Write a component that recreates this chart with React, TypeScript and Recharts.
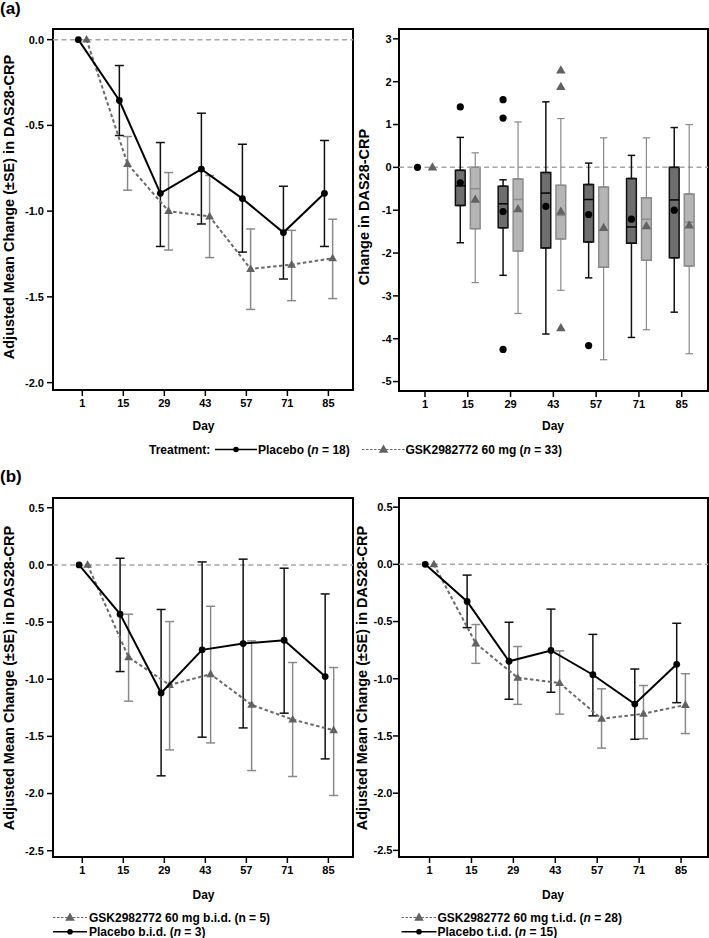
import React from 'react';
import {
  ComposedChart,
  Scatter,
  XAxis,
  YAxis,
  ErrorBar,
  ReferenceLine,
  ReferenceArea,
} from 'recharts';

/* ------------------------------------------------------------------ */
/*  Data                                                               */
/* ------------------------------------------------------------------ */
const DAYS = [1, 15, 29, 43, 57, 71, 85];
const BOX_DAYS = [15, 29, 43, 57, 71, 85];

const meanTicksA = [0, -0.5, -1, -1.5, -2];
const boxTicks = [3, 2, 1, 0, -1, -2, -3, -4, -5];
const meanTicksB = [0.5, 0, -0.5, -1, -1.5, -2, -2.5];

/* (a) left — adjusted mean change ± SE */
const aPlaceboMean = [0, -0.355, -0.896, -0.755, -0.927, -1.125, -0.896];
const aPlaceboUpper = [0, -0.151, -0.6, -0.429, -0.61, -0.855, -0.588];
const aPlaceboLower = [0, -0.559, -1.206, -1.075, -1.239, -1.396, -1.206];
const aGskMean = [0, -0.725, -1.0, -1.031, -1.337, -1.312, -1.275];
const aGskUpper = [0, -0.565, -0.775, -0.792, -1.104, -1.112, -1.047];
const aGskLower = [0, -0.878, -1.227, -1.271, -1.573, -1.522, -1.51];

/* (a) right — box plots of change */
const boxPlaceboMin = [-1.76, -2.52, -3.89, -2.58, -3.97, -3.38];
const boxPlaceboQ1 = [-0.89, -1.41, -1.88, -1.74, -1.77, -2.11];
const boxPlaceboMedian = [-0.43, -0.85, -0.6, -0.75, -1.39, -0.76];
const boxPlaceboQ3 = [-0.07, -0.44, -0.12, -0.4, -0.26, 0.0];
const boxPlaceboMax = [0.7, -0.29, 1.53, 0.1, 0.28, 0.93];
const boxPlaceboMean = [0, -0.36, -1.03, -0.91, -1.1, -1.21, -1.0];

const boxGskMin = [-2.69, -3.41, -2.87, -4.49, -3.79, -4.35];
const boxGskQ1 = [-1.43, -1.95, -1.67, -2.33, -2.17, -2.3];
const boxGskMedian = [-0.5, -0.75, -1.12, -1.47, -1.21, -1.28];
const boxGskQ3 = [0.0, -0.27, -0.42, -0.46, -0.71, -0.62];
const boxGskMax = [0.34, 1.06, 1.14, 0.69, 0.69, 1.0];
const boxGskMean = [0, -0.75, -0.97, -1.03, -1.41, -1.37, -1.35];

const placeboOutlierDays = [15, 29, 29, 29, 57];
const placeboOutlierValues = [1.41, 1.58, 1.15, -4.25, -4.16];
const gskOutlierDays = [43, 43, 43];
const gskOutlierValues = [2.27, 1.88, -3.75];

/* (b) left — b.i.d. */
const bidPlaceboMean = [0, -0.431, -1.12, -0.743, -0.688, -0.659, -0.977];
const bidPlaceboUpper = [0, 0.058, -0.39, 0.026, 0.05, -0.029, -0.254];
const bidPlaceboLower = [0, -0.933, -1.845, -1.507, -1.426, -1.297, -1.697];
const bidGskMean = [0, -0.808, -1.05, -0.956, -1.224, -1.353, -1.446];
const bidGskUpper = [0, -0.431, -0.496, -0.362, -0.665, -0.854, -0.898];
const bidGskLower = [0, -1.192, -1.618, -1.557, -1.799, -1.851, -2.017];

/* (b) right — t.i.d. */
const tidPlaceboMean = [0, -0.324, -0.847, -0.753, -0.965, -1.221, -0.874];
const tidPlaceboUpper = [0, -0.094, -0.506, -0.391, -0.612, -0.915, -0.515];
const tidPlaceboLower = [0, -0.553, -1.179, -1.118, -1.324, -1.529, -1.209];
const tidGskMean = [0, -0.691, -0.991, -1.038, -1.35, -1.306, -1.229];
const tidGskUpper = [0, -0.526, -0.718, -0.756, -1.088, -1.059, -0.956];
const tidGskLower = [0, -0.865, -1.224, -1.309, -1.606, -1.524, -1.479];

/* ------------------------------------------------------------------ */
/*  Styling                                                            */
/* ------------------------------------------------------------------ */
const FONT = '"Liberation Sans", Arial, Helvetica, sans-serif';
const TICK = { fill: '#000', fontSize: 11, fontWeight: 700, fontFamily: FONT };
const TICK_LINE = { stroke: '#000', strokeWidth: 1.5 };
const ZERO_LINE = '#a6a6a6';
const GSK_LINE = '#6a6a6a';
const GSK_BAR = '#8a8a8a';
const GSK_MARK = '#626262';

type Pt = { x: number; y: number; err: [number, number] };

function toPoints(mean: number[], upper: number[], lower: number[], shift: number): Pt[] {
  return DAYS.map((d, i) => ({
    x: d + shift,
    y: mean[i],
    err: [mean[i] - lower[i], upper[i] - mean[i]] as [number, number],
  }));
}

const NoShape = () => <g />;

function dotShape(r: number, fill: string) {
  return (p: any) => <circle cx={p.cx} cy={p.cy} r={r} fill={fill} />;
}

function triPath(cx: number, cy: number, s: number) {
  return `M${cx},${cy - s}L${cx + s * 0.95},${cy + s * 0.65}L${cx - s * 0.95},${cy + s * 0.65}Z`;
}

function triShape(s: number, fill: string) {
  return (p: any) => <path d={triPath(p.cx, p.cy, s)} fill={fill} />;
}

/* y tick label drawn as plain svg text */
function yTickLabel(digits: number) {
  return (props: any) => {
    const { x, y, payload } = props;
    return (
      <text
        x={x}
        y={y}
        dy="0.355em"
        textAnchor="end"
        fill="#000"
        fontSize={11}
        fontWeight={700}
        fontFamily={FONT}
      >
        {Number(payload.value).toFixed(digits)}
      </text>
    );
  };
}

/* ------------------------------------------------------------------ */
/*  Mean ± SE chart                                                    */
/* ------------------------------------------------------------------ */
interface MeanProps {
  left: number;
  top: number;
  width: number;
  height: number;
  marginTop: number;
  marginRight: number;
  yWidth: number;
  xHeight: number;
  yTickMargin: number;
  xDomain: [number, number];
  yDomain: [number, number];
  yTicks: number[];
  placebo: Pt[];
  gsk: Pt[];
}

function MeanChart(p: MeanProps) {
  const plErr = p.placebo.filter((d) => d.err[0] + d.err[1] > 0);
  const gsErr = p.gsk.filter((d) => d.err[0] + d.err[1] > 0);
  return (
    <div style={{ position: 'absolute', left: p.left, top: p.top }}>
      <ComposedChart
        width={p.width}
        height={p.height}
        margin={{ top: p.marginTop, right: p.marginRight, bottom: 0, left: 0 }}
      >
        <XAxis
          type="number"
          dataKey="x"
          domain={p.xDomain}
          allowDataOverflow
          ticks={DAYS}
          interval={0}
          height={p.xHeight}
          axisLine={false}
          tickLine={TICK_LINE}
          tickSize={6}
          tickMargin={3}
          tick={TICK}
        />
        <YAxis
          type="number"
          dataKey="y"
          domain={p.yDomain}
          allowDataOverflow
          ticks={p.yTicks}
          interval={0}
          width={p.yWidth}
          axisLine={false}
          tickLine={TICK_LINE}
          tickSize={6}
          tickMargin={p.yTickMargin}
          tick={yTickLabel(1)}
        />
        <ReferenceLine y={0} stroke={ZERO_LINE} strokeWidth={1.5} strokeDasharray="5 3.5" />
        <ReferenceArea
          x1={p.xDomain[0]}
          x2={p.xDomain[1]}
          y1={p.yDomain[0]}
          y2={p.yDomain[1]}
          fill="none"
          stroke="#000"
          strokeWidth={2}
          ifOverflow="visible"
        />
        <Scatter data={gsErr} shape={NoShape} isAnimationActive={false}>
          <ErrorBar dataKey="err" direction="y" width={4.5} stroke={GSK_BAR} strokeWidth={1.5} />
        </Scatter>
        <Scatter
          data={p.gsk}
          fill={GSK_MARK}
          line={{ stroke: GSK_LINE, strokeWidth: 2, strokeDasharray: '3.5 2.5' }}
          shape={triShape(4.6, GSK_MARK)}
          isAnimationActive={false}
        />
        <Scatter data={plErr} shape={NoShape} isAnimationActive={false}>
          <ErrorBar dataKey="err" direction="y" width={4.5} stroke="#111" strokeWidth={1.5} />
        </Scatter>
        <Scatter
          data={p.placebo}
          fill="#000"
          line={{ stroke: '#000', strokeWidth: 2 }}
          shape={dotShape(3.4, '#000')}
          isAnimationActive={false}
        />
      </ComposedChart>
    </div>
  );
}

/* ------------------------------------------------------------------ */
/*  Box plot chart                                                     */
/* ------------------------------------------------------------------ */
const BOX_SHIFT = 2.45;
const BOX_HALF = 1.6;

function boxRows(
  mins: number[],
  q1s: number[],
  meds: number[],
  q3s: number[],
  maxs: number[],
  shift: number
) {
  return BOX_DAYS.map((d, i) => ({
    x: d + shift,
    min: mins[i],
    q1: q1s[i],
    med: meds[i],
    q3: q3s[i],
    max: maxs[i],
  }));
}

function BoxChart() {
  const xDomain: [number, number] = [-7.5, 93.6];
  const yDomain: [number, number] = [-5.22, 3.23];
  const pl = boxRows(boxPlaceboMin, boxPlaceboQ1, boxPlaceboMedian, boxPlaceboQ3, boxPlaceboMax, -BOX_SHIFT);
  const gs = boxRows(boxGskMin, boxGskQ1, boxGskMedian, boxGskQ3, boxGskMax, BOX_SHIFT);
  const upper = (rows: typeof pl) => rows.map((r) => ({ x: r.x, y: r.q3, err: [0, r.max - r.q3] }));
  const lower = (rows: typeof pl) => rows.map((r) => ({ x: r.x, y: r.q1, err: [r.q1 - r.min, 0] }));
  const plMean = DAYS.map((d, i) => ({ x: d - BOX_SHIFT, y: boxPlaceboMean[i] }));
  const gsMean = DAYS.map((d, i) => ({ x: d + BOX_SHIFT, y: boxGskMean[i] }));
  const plOut = placeboOutlierDays.map((d, i) => ({ x: d - BOX_SHIFT, y: placeboOutlierValues[i] }));
  const gsOut = gskOutlierDays.map((d, i) => ({ x: d + BOX_SHIFT, y: gskOutlierValues[i] }));

  return (
    <div style={{ position: 'absolute', left: 355, top: 0 }}>
      <ComposedChart width={354} height={440} margin={{ top: 29, right: 1, bottom: 0, left: 0 }}>
        <XAxis
          type="number"
          dataKey="x"
          domain={xDomain}
          allowDataOverflow
          ticks={DAYS}
          interval={0}
          height={49}
          axisLine={false}
          tickLine={TICK_LINE}
          tickSize={6}
          tickMargin={3}
          tick={TICK}
        />
        <YAxis
          type="number"
          dataKey="y"
          domain={yDomain}
          allowDataOverflow
          ticks={boxTicks}
          interval={0}
          width={44}
          axisLine={false}
          tickLine={TICK_LINE}
          tickSize={6}
          tickMargin={1.5}
          tick={yTickLabel(0)}
        />
        <ReferenceLine y={0} stroke={ZERO_LINE} strokeWidth={1.5} strokeDasharray="5 3.5" />
        <ReferenceArea
          x1={xDomain[0]}
          x2={xDomain[1]}
          y1={yDomain[0]}
          y2={yDomain[1]}
          fill="none"
          stroke="#000"
          strokeWidth={2}
          ifOverflow="visible"
        />
        {pl.map((r) => (
          <ReferenceArea
            key={`pb-${r.x}`}
            x1={r.x - BOX_HALF}
            x2={r.x + BOX_HALF}
            y1={r.q1}
            y2={r.q3}
            fill="#6e6e6e"
            fillOpacity={1}
            stroke="#111"
            strokeWidth={1.5}
            ifOverflow="visible"
          />
        ))}
        {gs.map((r) => (
          <ReferenceArea
            key={`gb-${r.x}`}
            x1={r.x - BOX_HALF}
            x2={r.x + BOX_HALF}
            y1={r.q1}
            y2={r.q3}
            fill="#b5b5b5"
            fillOpacity={1}
            stroke="#8c8c8c"
            strokeWidth={1.5}
            ifOverflow="visible"
          />
        ))}
        {pl.map((r) => (
          <ReferenceLine
            key={`pm-${r.x}`}
            segment={[
              { x: r.x - BOX_HALF, y: r.med },
              { x: r.x + BOX_HALF, y: r.med },
            ]}
            stroke="#000"
            strokeWidth={1.5}
            ifOverflow="visible"
          />
        ))}
        {gs.map((r) => (
          <ReferenceLine
            key={`gm-${r.x}`}
            segment={[
              { x: r.x - BOX_HALF, y: r.med },
              { x: r.x + BOX_HALF, y: r.med },
            ]}
            stroke="#8c8c8c"
            strokeWidth={1.5}
            ifOverflow="visible"
          />
        ))}
        <Scatter data={upper(pl)} shape={NoShape} isAnimationActive={false}>
          <ErrorBar dataKey="err" direction="y" width={3.7} stroke="#111" strokeWidth={1.5} />
        </Scatter>
        <Scatter data={lower(pl)} shape={NoShape} isAnimationActive={false}>
          <ErrorBar dataKey="err" direction="y" width={3.7} stroke="#111" strokeWidth={1.5} />
        </Scatter>
        <Scatter data={upper(gs)} shape={NoShape} isAnimationActive={false}>
          <ErrorBar dataKey="err" direction="y" width={3.7} stroke={GSK_BAR} strokeWidth={1.2} />
        </Scatter>
        <Scatter data={lower(gs)} shape={NoShape} isAnimationActive={false}>
          <ErrorBar dataKey="err" direction="y" width={3.7} stroke={GSK_BAR} strokeWidth={1.2} />
        </Scatter>
        <Scatter data={plMean} fill="#000" shape={dotShape(3.6, '#000')} isAnimationActive={false} />
        <Scatter data={gsMean} fill={GSK_MARK} shape={triShape(5, GSK_MARK)} isAnimationActive={false} />
        <Scatter data={plOut} fill="#000" shape={dotShape(3.6, '#000')} isAnimationActive={false} />
        <Scatter data={gsOut} fill={GSK_MARK} shape={triShape(5, GSK_MARK)} isAnimationActive={false} />
      </ComposedChart>
    </div>
  );
}

/* ------------------------------------------------------------------ */
/*  Titles and legends                                                 */
/* ------------------------------------------------------------------ */
function Overlay() {
  const b = { fontFamily: FONT, fontWeight: 700, fill: '#000' } as const;
  const yTitle = (x: number, y: number, text: string) => (
    <text transform={`translate(${x},${y}) rotate(-90)`} textAnchor="middle" fontSize={14.5} {...b}>
      {text}
    </text>
  );
  const placeboIcon = (x1: number, x2: number, y: number) => (
    <g>
      <line x1={x1} x2={x2} y1={y} y2={y} stroke="#000" strokeWidth={1.5} />
      <circle cx={(x1 + x2) / 2} cy={y} r={2.8} fill="#000" />
    </g>
  );
  const gskIcon = (x1: number, x2: number, y: number) => (
    <g>
      <line x1={x1} x2={x2} y1={y} y2={y} stroke={GSK_LINE} strokeWidth={1} strokeDasharray="2.5 1.5" />
      <path d={triPath((x1 + x2) / 2, y, 5)} fill={GSK_MARK} />
    </g>
  );
  return (
    <svg
      width={709}
      height={938}
      style={{ position: 'absolute', left: 0, top: 0, pointerEvents: 'none' }}
    >
      <text x={0} y={13.5} fontSize={17} {...b}>(a)</text>
      <text x={0} y={482} fontSize={17} {...b}>(b)</text>

      {yTitle(14, 207, 'Adjusted Mean Change (±SE) in DAS28-CRP')}
      {yTitle(368.5, 207, 'Change in DAS28-CRP')}
      {yTitle(14, 678, 'Adjusted Mean Change (±SE) in DAS28-CRP')}
      {yTitle(367, 678, 'Adjusted Mean Change (±SE) in DAS28-CRP')}

      <text x={203.5} y={429.5} textAnchor="middle" fontSize={12} {...b}>Day</text>
      <text x={553} y={429.5} textAnchor="middle" fontSize={12} {...b}>Day</text>
      <text x={203.5} y={898.5} textAnchor="middle" fontSize={12} {...b}>Day</text>
      <text x={553} y={898.5} textAnchor="middle" fontSize={12} {...b}>Day</text>

      {/* legend (a) */}
      <text x={149} y={453.5} fontSize={12} {...b}>Treatment:</text>
      {placeboIcon(215, 257, 449.5)}
      <text x={258} y={453.5} fontSize={12} {...b}>
        Placebo (<tspan fontStyle="italic">n</tspan> = 18)
      </text>
      {gskIcon(362, 405, 449.5)}
      <text x={405.5} y={453.5} fontSize={12} {...b}>
        GSK2982772 60 mg (<tspan fontStyle="italic">n</tspan> = 33)
      </text>

      {/* legend (b) left */}
      {gskIcon(53, 87, 917.5)}
      <text x={89} y={921.5} fontSize={12} {...b}>GSK2982772 60 mg b.i.d. (n = 5)</text>
      {placeboIcon(53, 87, 931.7)}
      <text x={89} y={935.8} fontSize={12} {...b}>
        Placebo b.i.d. (<tspan fontStyle="italic">n</tspan> = 3)
      </text>

      {/* legend (b) right */}
      {gskIcon(401.5, 436.5, 917.5)}
      <text x={437.5} y={921.5} fontSize={12} {...b}>
        GSK2982772 60 mg t.i.d. (<tspan fontStyle="italic">n</tspan> = 28)
      </text>
      {placeboIcon(401.5, 436.5, 931.7)}
      <text x={437.5} y={935.8} fontSize={12} {...b}>
        Placebo t.i.d. (<tspan fontStyle="italic">n</tspan> = 15)
      </text>
    </svg>
  );
}

/* ------------------------------------------------------------------ */
/*  Main Component                                                     */
/* ------------------------------------------------------------------ */
export default function App() {
  return (
    <div
      style={{
        position: 'absolute',
        left: 0,
        top: 0,
        width: 709,
        height: 938,
        background: '#fff',
        overflow: 'hidden',
        fontFamily: FONT,
      }}
    >
      <MeanChart
        left={0}
        top={0}
        width={360}
        height={440}
        marginTop={29}
        marginRight={7}
        yWidth={53}
        xHeight={50}
        yTickMargin={3}
        xDomain={[-9, 93.4]}
        yDomain={[-2.043, 0.062]}
        yTicks={meanTicksA}
        placebo={toPoints(aPlaceboMean, aPlaceboUpper, aPlaceboLower, -1.35)}
        gsk={toPoints(aGskMean, aGskUpper, aGskLower, 1.45)}
      />
      <BoxChart />
      <MeanChart
        left={0}
        top={440}
        width={360}
        height={460}
        marginTop={58}
        marginRight={7}
        yWidth={53}
        xHeight={43}
        yTickMargin={3}
        xDomain={[-9, 93.4]}
        yDomain={[-2.555, 0.585]}
        yTicks={meanTicksB}
        placebo={toPoints(bidPlaceboMean, bidPlaceboUpper, bidPlaceboLower, -1.1)}
        gsk={toPoints(bidGskMean, bidGskUpper, bidGskLower, 1.8)}
      />
      <MeanChart
        left={355}
        top={440}
        width={354}
        height={460}
        marginTop={58}
        marginRight={1}
        yWidth={44}
        xHeight={43}
        yTickMargin={0.5}
        xDomain={[-9.2, 94]}
        yDomain={[-2.558, 0.58]}
        yTicks={meanTicksB}
        placebo={toPoints(tidPlaceboMean, tidPlaceboUpper, tidPlaceboLower, -1.45)}
        gsk={toPoints(tidGskMean, tidGskUpper, tidGskLower, 1.45)}
      />
      <Overlay />
    </div>
  );
}
